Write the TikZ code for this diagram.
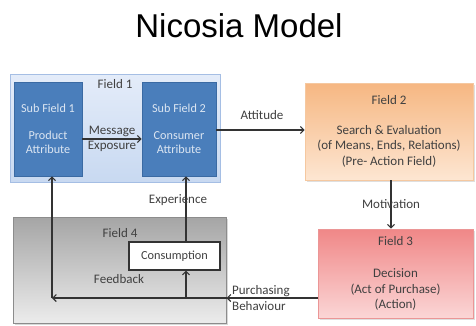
\documentclass[tikz,border=0pt]{standalone}
\usepackage{fontspec}
\setmainfont{Carlito}
\newfontfamily\titlefont{Liberation Sans}
\usetikzlibrary{arrows.meta,shadows}
\definecolor{txt}{HTML}{404040}
\definecolor{ln}{HTML}{333333}
\definecolor{sfblue}{HTML}{4A7EBB}
\definecolor{sfborder}{HTML}{3A6AA3}
\definecolor{sftext}{HTML}{DCE6F2}
\tikzset{
  conn/.style={draw=ln, line width=1.4pt, -{Straight Barb[length=3.5pt,width=7pt,line width=1.1pt]}},
  lbl/.style={text=txt, font=\fontsize{13}{15.5}\selectfont, inner sep=0pt, align=center},
  fieldbox/.style={font=\fontsize{13}{15.5}\selectfont, text=txt, align=center, inner sep=0pt},
  subbox/.style={fill=sfblue, draw=sfborder, line width=0.8pt, text=sftext, align=center,
     font=\fontsize{12.2}{14.5}\selectfont, inner sep=0pt, minimum width=#1, minimum height=94pt},
}
\begin{document}
\begin{tikzpicture}[x=1pt,y=-1pt]
\useasboundingbox[fill=white] (0,0) rectangle (476,325);
% title
\node[font=\titlefont\fontsize{33}{38}\selectfont, inner sep=0pt, anchor=base] (title) at (239,37) {Nicosia Model};
% Field 1
\node[draw={rgb,255:red,165;green,190;blue,228}, line width=0.8pt, top color={rgb,255:red,228;green,236;blue,249}, bottom color={rgb,255:red,200;green,217;blue,241},
  minimum width=210pt, minimum height=108pt, inner sep=0pt,
  drop shadow={shadow xshift=1.2pt, shadow yshift=-1.2pt, opacity=0.25}] (f1) at (115,128) {};
\node[lbl] (f1l) at (115,84) {Field 1};
\node[subbox=68pt] (sf1) at (48,129) {Sub Field 1\\[12pt]Product\\Attribute};
\node[subbox=74pt] (sf2) at (179,129) {Sub Field 2\\[12pt]Consumer\\Attribute};
% Field 2
\node[fieldbox, draw={rgb,255:red,245;green,200;blue,160}, line width=0.6pt, top color={rgb,255:red,246;green,183;blue,130}, bottom color={rgb,255:red,253;green,230;blue,210},
  minimum width=168pt, minimum height=97pt,
  drop shadow={shadow xshift=1.5pt, shadow yshift=-1.5pt, opacity=0.25}] (f2) at (389,131.5)
  {Field 2\\[14pt]Search \& Evaluation\\(of Means, Ends, Relations)\\(Pre- Action Field)};
% Field 3
\node[fieldbox, draw={rgb,255:red,235;green,150;blue,150}, line width=0.6pt, top color={rgb,255:red,240;green,135;blue,135}, bottom color={rgb,255:red,251;green,214;blue,214},
  minimum width=155pt, minimum height=89pt,
  drop shadow={shadow xshift=1.5pt, shadow yshift=-1.5pt, opacity=0.25}] (f3) at (395.5,273.5)
  {Field 3\\[17pt]Decision\\(Act of Purchase)\\(Action)};
% Field 4
\node[draw={rgb,255:red,140;green,140;blue,140}, line width=1pt, top color={rgb,255:red,165;green,165;blue,165}, bottom color={rgb,255:red,236;green,236;blue,236},
  minimum width=213pt, minimum height=106pt, inner sep=0pt,
  drop shadow={shadow xshift=1.5pt, shadow yshift=-1.5pt, opacity=0.3}] (f4) at (119.5,270) {};
\node[lbl] (f4l) at (120,233) {Field 4};
\node[draw=ln, line width=1.2pt, fill=white, minimum width=91pt, minimum height=28pt, inner sep=0pt,
  font=\fontsize{12.3}{14}\selectfont, text=txt] (cons) at (174.5,256) {Consumption};
\node[lbl] (fb) at (119,279) {Feedback};
% connectors
\coordinate (fbc) at (52,298);
\coordinate (cj) at (186,298);
\coordinate (mv) at (391,0);
\draw[conn] (sf1.east |- 0,139) -- (sf2.west |- 0,139);
\node[lbl] (msg) at (112,139) {Message\\Exposure};
\draw[conn] (sf2.east |- 0,130) -- (f2.west |- 0,130);
\node[lbl] (att) at (262,115) {Attitude};
\draw[conn] (f2.south -| mv) -- (f3.north -| mv);
\node[lbl] (mot) at (391,204) {Motivation};
\draw[conn] (f3.west |- fbc) -- (f4.east |- fbc);
\node[lbl, align=left, anchor=west] (pb) at (232,298) {Purchasing\\Behaviour};
\draw[conn] (f4.east |- fbc) -- (fbc);
\draw[conn] (fbc) -- (sf1.south -| fbc);
\draw[conn] (cj) -- (cons.south -| cj);
\draw[conn] (cons.north -| cj) -- (sf2.south -| cj);
\node[lbl] (exp) at (178,200) {Experience};
\end{tikzpicture}
\end{document}
